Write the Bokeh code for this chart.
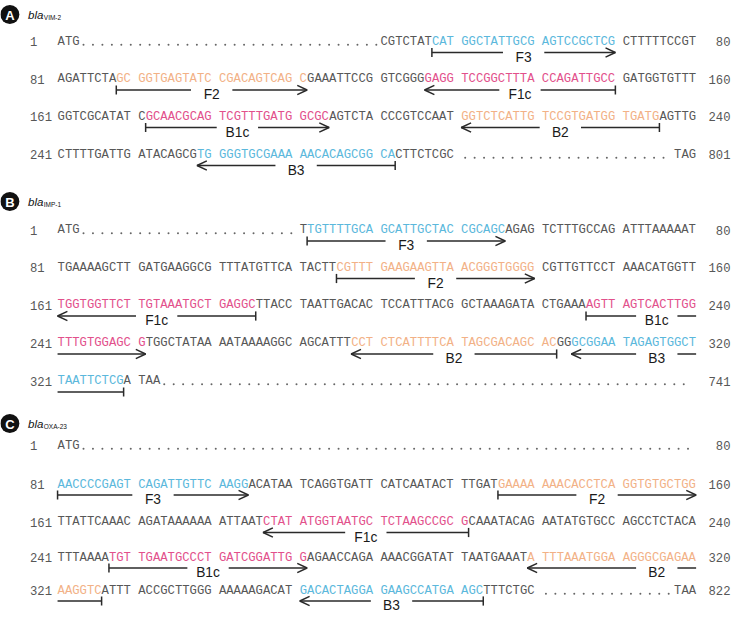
from bokeh.plotting import figure
from bokeh.models import ColumnDataSource, Range1d
from bokeh.core.properties import value
from bokeh.embed import file_html
from bokeh.resources import INLINE

BLUE = "#5bb8dc"
ORANGE = "#f2b186"
PINK = "#e2508b"
SEQ_GRAY = "#575757"
LINE = "#2a2a2a"

# ---------------- data ----------------
genes = ["VIM-2", "IMP-1", "OXA-23"]
letters = ["A", "B", "C"]

rows_A = [
    (1, "ATG~CGTCTATCAT GGCTATTGCG AGTCCGCTCG CTTTTTCCGT", 80),
    (81, "AGATTCTAGC GGTGAGTATC CGACAGTCAG CGAAATTCCG GTCGGGGAGG TCCGGCTTTA CCAGATTGCC GATGGTGTTT", 160),
    (161, "GGTCGCATAT CGCAACGCAG TCGTTTGATG GCGCAGTCTA CCCGTCCAAT GGTCTCATTG TCCGTGATGG TGATGAGTTG", 240),
    (241, "CTTTTGATTG ATACAGCGTG GGGTGCGAAA AACACAGCGG CACTTCTCGC ~TAG", 801),
]
primers_A = [
    ("F3", 48, 70, "blue", 1),
    ("F2", 89, 111, "orange", 1),
    ("F1c", 127, 150, "pink", -1),
    ("B1c", 172, 194, "pink", 1),
    ("B2", 211, 235, "orange", -1),
    ("B3", 259, 282, "blue", -1),
]

rows_B = [
    (1, "ATG~TTGTTTTGCA GCATTGCTAC CGCAGCAGAG TCTTTGCCAG ATTTAAAAAT", 80),
    (81, "TGAAAAGCTT GATGAAGGCG TTTATGTTCA TACTTCGTTT GAAGAAGTTA ACGGGTGGGG CGTTGTTCCT AAACATGGTT", 160),
    (161, "TGGTGGTTCT TGTAAATGCT GAGGCTTACC TAATTGACAC TCCATTTACG GCTAAAGATA CTGAAAAGTT AGTCACTTGG", 240),
    (241, "TTTGTGGAGC GTGGCTATAA AATAAAAGGC AGCATTTCCT CTCATTTTCA TAGCGACAGC ACGGGCGGAA TAGAGTGGCT", 320),
    (321, "TAATTCTCGA TAA~", 741),
]
primers_B = [
    ("F3", 32, 56, "blue", 1),
    ("F2", 116, 140, "orange", 1),
    ("F1c", 161, 185, "pink", -1),
    ("B1c", 227, 251, "pink", 1),
    ("B2", 278, 302, "orange", -1),
    ("B3", 305, 329, "blue", -1),
]

rows_C = [
    (1, "ATG~", 80),
    (81, "AACCCCGAGT CAGATTGTTC AAGGACATAA TCAGGTGATT CATCAATACT TTGATGAAAA AAACACCTCA GGTGTGCTGG", 160),
    (161, "TTATTCAAAC AGATAAAAAA ATTAATCTAT ATGGTAATGC TCTAAGCCGC GCAAATACAG AATATGTGCC AGCCTCTACA", 240),
    (241, "TTTAAAATGT TGAATGCCCT GATCGGATTG GAGAACCAGA AAACGGATAT TAATGAAATA TTTAAATGGA AGGGCGAGAA", 320),
    (321, "AAGGTCATTT ACCGCTTGGG AAAAAGACAT GACACTAGGA GAAGCCATGA AGCTTTCTGC ~TAA", 822),
]
primers_C = [
    ("F3", 81, 104, "blue", 1),
    ("F2", 136, 160, "orange", 1),
    ("F1c", 187, 211, "pink", -1),
    ("B1c", 248, 271, "pink", 1),
    ("B2", 300, 326, "orange", -1),
    ("B3", 351, 373, "blue", -1),
]

COLORS = {"blue": BLUE, "orange": ORANGE, "pink": PINK}

# ---------------- layout (reference pixel frame) ----------------
W, H = 732, 613
XSPAN = 744.0
SX = W / XSPAN          # horizontal px per frame unit

X0 = 58.0        # left edge of sequence text
CW = 7.46        # monospace character advance (frame units)
NCH = 87         # characters per row (8 groups of 10 + 7 spaces)
NUM_L = 30
NUM_R = 742

panels = [
    dict(title_y=14, row_y=[41, 78.5, 116, 154], rows=rows_A, primers=primers_A, dy=11),
    dict(title_y=201, row_y=[229.5, 267, 304.5, 342.5, 380.5], rows=rows_B, primers=primers_B, dy=11),
    dict(title_y=423, row_y=[445, 484, 521.5, 557, 590], rows=rows_C, primers=primers_C, dy=10.5),
]

p = figure(width=W, height=H, x_range=Range1d(0, XSPAN), y_range=Range1d(H, 0),
           output_backend="svg", toolbar_location=None, min_border=0)
p.axis.visible = False
p.grid.visible = False
p.outline_line_color = None
p.background_fill_color = "white"

seq_x, seq_y, seq_t, seq_c = [], [], [], []
numl_x, numl_y, numl_t = [], [], []
numr_x, numr_y, numr_t = [], [], []
dot_x, dot_y = [], []
lab_x, lab_y, lab_t = [], [], []
ln_xs, ln_ys = [], []

HEAD_L, HEAD_H, BAR_H = 10.0, 4.6, 4.6
LAB_DY = 4.5


def head(x, y, d):
    ln_xs.append([x - d * HEAD_L, x, x - d * HEAD_L])
    ln_ys.append([y - HEAD_H, y, y + HEAD_H])


def bar(x, y):
    ln_xs.append([x, x])
    ln_ys.append([y - BAR_H, y + BAR_H])


def seg(xa, xb, y):
    ln_xs.append([xa, xb])
    ln_ys.append([y, y])


for pan in panels:
    colmap = {}
    for name, a, b, c, d in pan["primers"]:
        for q in range(a, b + 1):
            colmap[q] = COLORS[c]
    posmap = {}
    for ri, (start, text, end) in enumerate(pan["rows"]):
        y = pan["row_y"][ri]
        numl_x.append(NUM_L); numl_y.append(y); numl_t.append(str(start))
        numr_x.append(NUM_R); numr_y.append(y); numr_t.append(str(end))
        if "~" in text:
            left, right = text.split("~")
            elided = True
        else:
            left, right = text, ""
            elided = False
        cells = []
        q = start
        for k, ch in enumerate(left):
            if ch == " ":
                cells.append((k, ch, None))
            else:
                cells.append((k, ch, q)); q += 1
        rstart = NCH - len(right)
        q = end - sum(1 for ch in right if ch != " ") + 1
        for k, ch in enumerate(right):
            if ch == " ":
                cells.append((rstart + k, ch, None))
            else:
                cells.append((rstart + k, ch, q)); q += 1
        for k, ch, qq in cells:
            if qq is not None:
                posmap[qq] = (ri, k)
        runs = []
        for k, ch, qq in cells:
            col = colmap.get(qq, SEQ_GRAY) if qq is not None else None
            contiguous = bool(runs) and runs[-1][0] + len(runs[-1][1]) == k
            if contiguous and (col is None or col == runs[-1][2]):
                runs[-1][1] += ch
            else:
                runs.append([k, ch, col if col is not None else SEQ_GRAY])
        for k, t, col in runs:
            stripped = t.lstrip(" ")
            k2 = k + (len(t) - len(stripped))
            stripped = stripped.rstrip(" ")
            if not stripped:
                continue
            seq_x.append(X0 + k2 * CW); seq_y.append(y); seq_t.append(stripped); seq_c.append(col)
        if elided:
            xa = X0 + len(left) * CW + 4
            xb = X0 + rstart * CW - 4 if right else X0 + NCH * CW - 6
            xx = xa
            while xx <= xb:
                dot_x.append(xx); dot_y.append(y + 3.2)
                xx += 9.6
    row_end = X0 + NCH * CW
    for name, a, b, c, d in pan["primers"]:
        groups = {}
        for q in range(a, b + 1):
            ri, k = posmap[q]
            groups.setdefault(ri, []).append(k)
        keys = sorted(groups)
        if len(keys) == 1:
            ri = keys[0]
            ly = pan["row_y"][ri] + pan["dy"]
            xl = X0 + min(groups[ri]) * CW
            xr = X0 + (max(groups[ri]) + 1) * CW
            mid = (xl + xr) / 2
            seg(xl, mid - 21, ly); seg(mid + 21, xr, ly)
            lab_x.append(mid); lab_y.append(ly + LAB_DY); lab_t.append(name)
            if d > 0:
                bar(xl, ly); head(xr, ly, 1)
            else:
                head(xl, ly, -1); bar(xr, ly)
        else:
            r1, r2 = keys[0], keys[1]
            ly1 = pan["row_y"][r1] + pan["dy"]
            ly2 = pan["row_y"][r2] + pan["dy"]
            xl = X0 + min(groups[r1]) * CW
            gr = row_end - 19
            gl = gr - 42
            seg(xl, gl, ly1); seg(gr, row_end, ly1)
            lab_x.append((gl + gr) / 2); lab_y.append(ly1 + LAB_DY); lab_t.append(name)
            if d > 0:
                bar(xl, ly1)
            else:
                head(xl, ly1, -1)
            xr = X0 + (max(groups[r2]) + 1) * CW
            seg(X0, xr, ly2)
            if d > 0:
                head(xr, ly2, 1)
            else:
                bar(xr, ly2)

mono = value("Liberation Mono")
fs_seq = f"{CW * SX / 0.6:.2f}px"

p.text(x="x", y="y", text="t", text_color="c",
       source=ColumnDataSource(dict(x=seq_x, y=seq_y, t=seq_t, c=seq_c)),
       text_font=mono, text_font_size=value(fs_seq), text_baseline="middle", text_align="left")
p.text(x="x", y="y", text="t", source=ColumnDataSource(dict(x=numl_x, y=numl_y, t=numl_t)),
       text_font=mono, text_font_size=value(fs_seq), text_baseline="middle", text_align="left",
       text_color=SEQ_GRAY)
p.text(x="x", y="y", text="t", source=ColumnDataSource(dict(x=numr_x, y=numr_y, t=numr_t)),
       text_font=mono, text_font_size=value(fs_seq), text_baseline="middle", text_align="right",
       text_color=SEQ_GRAY)
p.scatter(x=dot_x, y=dot_y, size=2.0, color="#666666", line_color=None)
p.multi_line(xs=ln_xs, ys=ln_ys, line_color=LINE, line_width=1.5)
p.text(x="x", y="y", text="t", source=ColumnDataSource(dict(x=lab_x, y=lab_y, t=lab_t)),
       text_font=value("Liberation Sans"), text_font_size=value(f"{14 * SX:.1f}px"),
       text_baseline="middle", text_align="center", text_color="#1a1a1a")

# panel titles
tx = [9.5 for _ in panels]
ty = [pan["title_y"] for pan in panels]
p.scatter(x=tx, y=ty, size=19, color="#111111", line_color=None)
p.text(x=tx, y=[v + 0.5 for v in ty], text=letters, text_font=value("Liberation Sans"),
       text_font_style="bold", text_font_size=value("13px"), text_color="white",
       text_align="center", text_baseline="middle")
p.text(x=[28] * 3, y=ty, text=["bla"] * 3, text_font=value("Liberation Sans"),
       text_font_style="italic", text_font_size=value("11.5px"), text_color="#111111",
       text_align="left", text_baseline="middle")
p.text(x=[44] * 3, y=[v + 3 for v in ty], text=genes, text_font=value("Liberation Sans"),
       text_font_size=value("6.5px"), text_color="#111111",
       text_align="left", text_baseline="middle")

open("out.html", "w").write(file_html(p, INLINE))
